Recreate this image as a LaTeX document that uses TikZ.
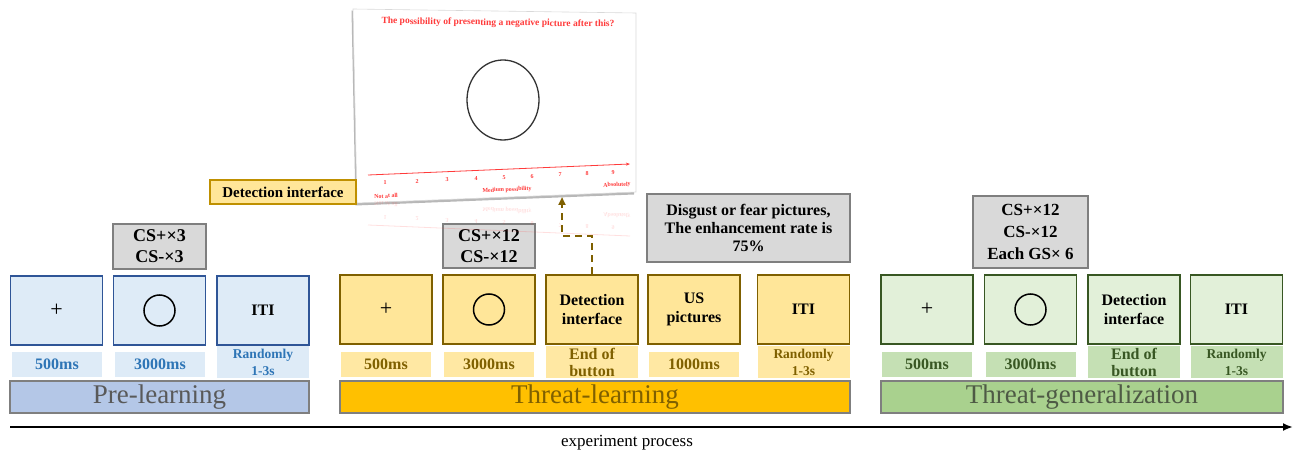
\documentclass[tikz,border=0pt]{standalone}
\usepackage{fontspec}
\setmainfont{Liberation Serif}[BoldFont={* Bold}]
\usetikzlibrary{arrows.meta}
\definecolor{preB}{HTML}{2F5597}
\definecolor{preF}{HTML}{DEEBF7}
\definecolor{preT}{HTML}{2E75B6}
\definecolor{preBar}{HTML}{B4C7E7}
\definecolor{thrB}{HTML}{7F6000}
\definecolor{thrF}{HTML}{FFE699}
\definecolor{thrL}{HTML}{FFE8A3}
\definecolor{thrBar}{HTML}{FFC000}
\definecolor{genB}{HTML}{385723}
\definecolor{genF}{HTML}{E2F0D9}
\definecolor{genL}{HTML}{C5E0B4}
\definecolor{genBar}{HTML}{A9D18E}
\definecolor{grayF}{HTML}{D9D9D9}
\definecolor{grayB}{HTML}{7F7F7F}
\definecolor{barTxt}{HTML}{595959}
\definecolor{genTxt}{HTML}{4E5A45}
\definecolor{shotRed}{HTML}{FF3B3B}
\definecolor{detB}{HTML}{BF9000}
\newcommand\fsz[2]{\fontsize{#1pt}{#2pt}\selectfont}
\tikzset{
  stagebox/.style={draw, line width=1.6pt, minimum width=92pt, minimum height=69pt, inner sep=0pt, align=center, font=\fsz{16}{19}\bfseries},
  prebox/.style={stagebox, draw=preB, fill=preF},
  thrbox/.style={stagebox, draw=thrB, fill=thrF},
  genbox/.style={stagebox, draw=genB, fill=genF},
  ring/.style={circle, draw=black, line width=1.5pt, minimum size=31pt, inner sep=0pt},
  timelab/.style={minimum width=90pt, minimum height=25pt, inner sep=0pt, align=center, font=\fsz{16}{17}\bfseries},
  twolab/.style={minimum height=31pt, minimum width=92pt},
  randlab/.style={font=\fsz{13.5}{17}\bfseries},
  prelab/.style={timelab, fill=preF, text=preT},
  thrlab/.style={timelab, fill=thrL, text=thrB},
  genlab/.style={timelab, fill=genL, text=genB},
  grayinfo/.style={draw=grayB, fill=grayF, line width=1.3pt, inner sep=0pt, align=center, font=\fsz{18}{21}\bfseries},
  phasebar/.style={draw=grayB, line width=1.6pt, minimum height=32pt, inner sep=0pt, font=\fsz{27}{30}},
  shotsmall/.style={text=shotRed, font=\fsz{6}{7}\bfseries, inner sep=0pt},
}
\begin{document}
\begin{tikzpicture}[x=1pt, y=-1pt]
\useasboundingbox (0,0) rectangle (1296,454);

% ---------- Pre-learning ----------
\node[grayinfo, minimum width=93pt, minimum height=45pt] (pinfo) at (159.5,246.5) {CS+×3\\CS-×3};
\node[prebox] (p1) at (56.5,310.5) {\mdseries\fsz{22}{22}+};
\node[prebox] (p2) at (159.5,310.5) {};
\node[ring] (p2c) at (p2.center) {};
\node[prebox] (p3) at (263,310.5) {ITI};
\node[prelab] (p1t) at (57,364.5) {500ms};
\node[prelab] (p2t) at (160,364.5) {3000ms};
\node[prelab, twolab, randlab] (p3t) at (263,362) {Randomly\\1-3s};
\node[phasebar, fill=preBar, text=barTxt, minimum width=299pt] (pbar) at (159.5,397) {Pre-learning};

% ---------- Threat-learning ----------
\node[grayinfo, minimum width=92pt, minimum height=44pt] (tinfo) at (489,246) {CS+×12\\CS-×12};
\node[grayinfo, minimum width=203pt, minimum height=68pt, font=\fsz{16}{18}\bfseries] (dinfo) at (748.5,228) {Disgust or fear pictures,\\The enhancement rate is\\75\%};
\node[thrbox] (t1) at (386,309.5) {\mdseries\fsz{22}{22}+};
\node[thrbox] (t2) at (489,309.5) {};
\node[ring] (t2c) at (t2.center) {};
\node[thrbox] (t3) at (592,309.5) {Detection\\interface};
\node[thrbox] (t4) at (694,309.5) {US\\pictures};
\node[thrbox] (t5) at (803.5,309.5) {ITI};
\node[thrlab] (t1t) at (386,364.5) {500ms};
\node[thrlab] (t2t) at (489,364.5) {3000ms};
\node[thrlab, twolab] (t3t) at (592,362) {End of\\button};
\node[thrlab] (t4t) at (694,364.5) {1000ms};
\node[thrlab, twolab, randlab] (t5t) at (803.5,362) {Randomly\\1-3s};
\node[phasebar, fill=thrBar, text=thrB, minimum width=510pt] (tbar) at (595,397) {Threat-learning};

% ---------- Threat-generalization ----------
\node[grayinfo, minimum width=115pt, minimum height=72pt, font=\fsz{17}{22}\bfseries] (ginfo) at (1030.5,232) {CS+×12\\CS-×12\\Each GS× 6};
\node[genbox] (g1) at (927,309.5) {\mdseries\fsz{22}{22}+};
\node[genbox] (g2) at (1030.5,309.5) {};
\node[ring] (g2c) at (g2.center) {};
\node[genbox] (g3) at (1134,309.5) {Detection\\interface};
\node[genbox] (g4) at (1236.5,309.5) {ITI};
\node[genlab] (g1t) at (927,364.5) {500ms};
\node[genlab] (g2t) at (1030.5,364.5) {3000ms};
\node[genlab, twolab] (g3t) at (1134,362) {End of\\button};
\node[genlab, twolab, randlab] (g4t) at (1236.5,362) {Randomly\\1-3s};
\node[phasebar, fill=genBar, text=genTxt, minimum width=402pt] (gbar) at (1082,397) {Threat-generalization};

% ---------- time axis ----------
\coordinate (axS) at (10,427);
\coordinate (axE) at (1293,427);
\draw[line width=2pt, -{Latex[length=10pt,width=8pt]}] (axS) -- (axE);
\node[font=\fsz{17}{20}] (proc) at (627,443) {experiment process};

% ---------- detection screenshot ----------
\fill[black!28] (351.5,10.5) -- (634,15) -- (634,194.5) -- (355.5,205.5) -- cycle;
\filldraw[fill=white, draw=black!15, line width=0.6pt] (353,9) -- (636,13) -- (636,192) -- (357,203) -- cycle;
\node[text=shotRed, font=\fsz{9.5}{11}\bfseries, inner sep=0pt, rotate=-0.8] (stitle) at (498,23) {The possibility of presenting a negative picture after this?};
\draw[line width=1.3pt, black!80] (503,100) ellipse [x radius=36pt, y radius=40pt];
\coordinate (saxS) at (368,175);
\coordinate (saxE) at (630,164);
\draw[shotRed, line width=0.8pt, -{Stealth[length=4pt,width=3pt]}] (saxS) -- (saxE);
\foreach \i/\xx/\yy in {1/385/183, 2/417/182, 3/447/180, 4/476/179, 5/504/178, 6/532/177, 7/560/175, 8/587/174, 9/613/173}
  \node[shotsmall] (sn\i) at (\xx,\yy) {\i};
\node[shotsmall, rotate=2.4] (sl1) at (386,196) {Not at all};
\node[shotsmall, rotate=2.4] (sl2) at (507,190) {Medium possibility};
\node[shotsmall, rotate=2.4] (sl3) at (617,185) {Absolutely};
% faint reflection
\begin{scope}[opacity=0.16, yshift=-400pt, yscale=-1]
\draw[shotRed, line width=0.8pt] (368,175) -- (630,164);
\foreach \i/\xx/\yy in {1/385/183, 2/417/182, 3/447/180, 4/476/179, 5/504/178, 6/532/177, 7/560/175, 8/587/174, 9/613/173}
  \node[shotsmall, transform shape] (rn\i) at (\xx,\yy) {\i};
\node[shotsmall, transform shape, rotate=2.4] (rl1) at (386,196) {Not at all};
\node[shotsmall, transform shape, rotate=2.4] (rl2) at (507,190) {Medium possibility};
\node[shotsmall, transform shape, rotate=2.4] (rl3) at (617,185) {Absolutely};
\end{scope}
\coordinate (shotpt) at (562,197);

\node[draw=detB, fill=thrF, line width=1.5pt, minimum width=146pt, minimum height=24pt, inner sep=0pt, font=\fsz{15}{17}\bfseries] (dlabel) at (283,192) {Detection interface};

\draw[thrB, line width=2pt, dash pattern=on 7pt off 5pt, -{Triangle[length=8pt,width=7pt]}] (t3.north) -- ++(0,-38) -| (shotpt);
\end{tikzpicture}
\end{document}
